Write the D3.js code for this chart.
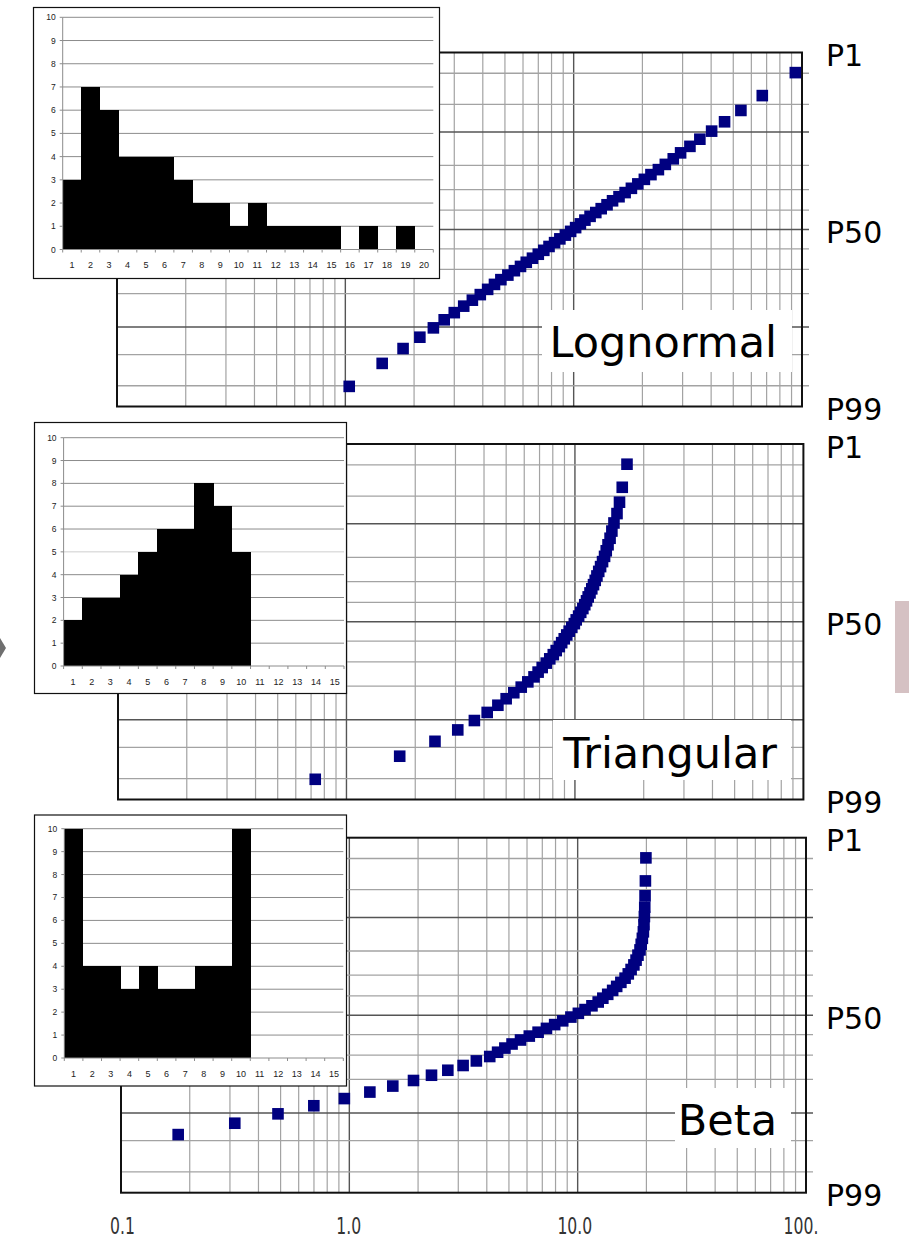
<!DOCTYPE html>
<html><head><meta charset="utf-8">
<script src="https://cdn.jsdelivr.net/npm/d3@7"></script>
<style>html,body{margin:0;padding:0;background:#fff;} svg{display:block;}</style>
</head><body><svg id="c" width="909" height="1240"></svg>
<script>
// ---------------- data ----------------
const distNames = ["Lognormal", "Triangular", "Beta"];

const lognormalValues = [1.04, 1.45, 1.79, 2.12, 2.43, 2.71, 3.0, 3.3, 3.6, 3.9,
  4.2, 4.5, 4.8, 5.15, 5.5, 5.85, 6.2, 6.6, 7.0, 7.4,
  7.8, 8.25, 8.7, 9.2, 9.7, 10.2, 10.7, 11.2, 11.8, 12.5,
  13.2, 14.0, 14.8, 15.8, 16.8, 17.9, 19.1, 20.4, 21.8, 23.5,
  25.2, 27.3, 29.4, 32.3, 35.7, 40.2, 45.8, 54.0, 67.0, 93.5];

const triangularValues = [0.73, 1.71, 2.44, 3.07, 3.63, 4.13, 4.60, 5.00, 5.40, 5.82,
  6.22, 6.62, 6.90, 7.19, 7.49, 7.76, 8.04, 8.28, 8.54, 8.75,
  8.98, 9.21, 9.44, 9.69, 9.94, 10.13, 10.38, 10.60, 10.83, 11.04,
  11.24, 11.43, 11.64, 11.85, 12.06, 12.27, 12.48, 12.71, 12.95, 13.21,
  13.48, 13.71, 13.96, 14.25, 14.51, 14.82, 15.28, 15.67, 16.11, 16.90];

const betaValues = [0.03, 0.075, 0.178, 0.315, 0.487, 0.699, 0.951, 1.23, 1.55, 1.91,
  2.29, 2.70, 3.15, 3.60, 4.12, 4.46, 4.80, 5.16, 5.62, 6.14,
  6.71, 7.30, 7.93, 8.60, 9.34, 10.07, 10.77, 11.55, 12.30, 12.89,
  13.54, 14.23, 14.82, 15.46, 16.13, 16.66, 17.14, 17.63, 18.02, 18.37,
  18.75, 18.98, 19.20, 19.40, 19.52, 19.60, 19.67, 19.73, 19.80, 19.90];

const lognormalCounts  = [3, 7, 6, 4, 4, 4, 3, 2, 2, 1, 2, 1, 1, 1, 1, 0, 1, 0, 1, 0];
const triangularCounts = [2, 3, 3, 4, 5, 6, 6, 8, 7, 5, 0, 0, 0, 0, 0];
const betaCounts       = [10, 4, 4, 3, 4, 3, 3, 4, 4, 10, 0, 0, 0, 0, 0];

const histYTicks = [0, 1, 2, 3, 4, 5, 6, 7, 8, 9, 10];

const xTickValues = [0.1, 1, 10, 100];
const xTickLabels = ["0.1", "1.0", "10.0", "100."];

const gridProbs  = [0.02, 0.05, 0.10, 0.20, 0.30, 0.40, 0.50, 0.60, 0.70, 0.80, 0.90, 0.95, 0.98];
const majorProbs = [0.10, 0.50, 0.90];
const edgeLabels = ["P1", "P50", "P99"];
const edgeProbs  = [0.99, 0.50, 0.01];

// ---------------- helpers ----------------
function probit(p) {
  const a = [-3.969683028665376e+01, 2.209460984245205e+02, -2.759285104469687e+02, 1.383577518672690e+02, -3.066479806614716e+01, 2.506628277459239e+00];
  const b = [-5.447609879822406e+01, 1.615858368580409e+02, -1.556989798598866e+02, 6.680131188771972e+01, -1.328068155288572e+01];
  const c = [-7.784894002430293e-03, -3.223964580411365e-01, -2.400758277161838e+00, -2.549732539343734e+00, 4.374664141464968e+00, 2.938163982698783e+00];
  const d = [7.784695709041462e-03, 3.224671290700398e-01, 2.445134137142996e+00, 3.754408661907416e+00];
  const pl = 0.02425, ph = 1 - pl;
  let q, r;
  if (p < pl) { q = Math.sqrt(-2 * Math.log(p)); return (((((c[0]*q+c[1])*q+c[2])*q+c[3])*q+c[4])*q+c[5]) / ((((d[0]*q+d[1])*q+d[2])*q+d[3])*q+1); }
  if (p <= ph) { q = p - 0.5; r = q*q; return (((((a[0]*r+a[1])*r+a[2])*r+a[3])*r+a[4])*r+a[5])*q / (((((b[0]*r+b[1])*r+b[2])*r+b[3])*r+b[4])*r+1); }
  q = Math.sqrt(-2 * Math.log(1 - p));
  return -(((((c[0]*q+c[1])*q+c[2])*q+c[3])*q+c[4])*q+c[5]) / ((((d[0]*q+d[1])*q+d[2])*q+d[3])*q+1);
}

const svg = d3.select("#c");
svg.append("rect").attr("width", 909).attr("height", 1240).attr("fill", "#fff");

const series = [lognormalValues, triangularValues, betaValues];
const counts = [lognormalCounts, triangularCounts, betaCounts];

const layouts = [
  { frame: {l: 117, r: 802, t: 52.5, b: 406.5}, tickExt: 7,
    label: {box: [542, 310, 250, 62], x: 777, y: 357},
    inset: {box: [33.5, 7.5, 406, 271], l: 62.7, r: 433.3, t: 17.3, b: 249.5} },
  { frame: {l: 118, r: 803.4, t: 444, b: 799.5}, tickExt: 0,
    label: {box: [553, 720, 238, 60], x: 777, y: 768},
    inset: {box: [34.5, 422.5, 312, 271], l: 63.6, r: 344, t: 437.7, b: 666} },
  { frame: {l: 121, r: 806, t: 837.7, b: 1192.7}, tickExt: 7,
    label: {box: [675, 1088, 116, 60], x: 777, y: 1135},
    inset: {box: [34.5, 815, 312, 271], l: 64.3, r: 343.3, t: 828.7, b: 1058} }
];

layouts.forEach((L, pi) => {
  const F = L.frame;
  const g = svg.append("g");
  const x = d3.scaleLog().domain([0.1, 100]).range([F.l, F.r]);
  const y = d3.scaleLinear().domain([probit(0.01), probit(0.99)]).range([F.b, F.t]);

  // vertical log grid
  const vMinor = [], vMajor = [];
  [0.1, 1, 10].forEach(dec => {
    for (let k = 1; k <= 9; k++) {
      const v = k * dec;
      if (v <= 0.1 + 1e-9) continue;
      (k === 1 ? vMajor : vMinor).push(v);
    }
  });
  g.selectAll(".vminor").data(vMinor).join("line")
    .attr("x1", d => x(d)).attr("x2", d => x(d)).attr("y1", F.t).attr("y2", F.b)
    .attr("stroke", "#a3a3a3").attr("stroke-width", 1.2);
  g.selectAll(".vmajor").data(vMajor).join("line")
    .attr("x1", d => x(d)).attr("x2", d => x(d)).attr("y1", F.t).attr("y2", F.b)
    .attr("stroke", "#555").attr("stroke-width", 1.4);

  // horizontal probability grid
  g.selectAll(".h").data(gridProbs).join("line")
    .attr("x1", F.l).attr("x2", F.r + L.tickExt)
    .attr("y1", d => y(probit(d))).attr("y2", d => y(probit(d)))
    .attr("stroke", d => majorProbs.includes(d) ? "#555" : "#a3a3a3")
    .attr("stroke-width", d => majorProbs.includes(d) ? 1.5 : 1.3);

  // frame
  g.append("rect").attr("x", F.l).attr("y", F.t).attr("width", F.r - F.l).attr("height", F.b - F.t)
    .attr("fill", "none").attr("stroke", "#111").attr("stroke-width", 2);

  // points (Weibull plotting positions i/(n+1))
  const vals = series[pi];
  const n = vals.length;
  const clipId = "clip" + pi;
  svg.append("clipPath").attr("id", clipId).append("rect")
    .attr("x", F.l).attr("y", F.t - 8).attr("width", F.r - F.l + 8).attr("height", F.b - F.t + 8);
  g.append("g").attr("clip-path", `url(#${clipId})`)
    .selectAll("rect").data(vals).join("rect")
    .attr("x", d => x(d) - 5.8)
    .attr("y", (d, i) => y(probit((i + 1) / (n + 1))) - 5.8)
    .attr("width", 11.6).attr("height", 11.6)
    .attr("fill", "#000080");

  // distribution name label with white background
  const LB = L.label;
  g.append("rect").attr("x", LB.box[0]).attr("y", LB.box[1]).attr("width", LB.box[2]).attr("height", LB.box[3])
    .attr("fill", "#fff");
  g.append("text").attr("x", LB.x).attr("y", LB.y).attr("text-anchor", "end")
    .attr("font-family", "'DejaVu Sans', Verdana, sans-serif").attr("font-size", 43)
    .attr("fill", "#000").text(distNames[pi]);

  // right edge labels
  g.selectAll(".pl").data(edgeLabels).join("text")
    .attr("x", 826).attr("y", (d, i) => y(probit(edgeProbs[i])) + 13.5)
    .attr("font-family", "'DejaVu Sans', Verdana, sans-serif").attr("font-size", 30)
    .attr("fill", "#000").text(d => d);

  // inset histogram
  const I = L.inset;
  const cts = counts[pi];
  const ig = svg.append("g");
  ig.append("rect").attr("x", I.box[0]).attr("y", I.box[1]).attr("width", I.box[2]).attr("height", I.box[3])
    .attr("fill", "#fff").attr("stroke", "#111").attr("stroke-width", 1.2);
  const hx = d3.scaleLinear().domain([0, cts.length]).range([I.l, I.r]);
  const hy = d3.scaleLinear().domain([0, 10]).range([I.b, I.t]);
  ig.selectAll(".hg").data(histYTicks.filter(v => v > 0)).join("line")
    .attr("x1", I.l).attr("x2", I.r).attr("y1", d => hy(d)).attr("y2", d => hy(d))
    .attr("stroke", d => (pi === 1 && d === 5) ? "#cfcfcf" : "#8c8c8c").attr("stroke-width", 1);
  ig.selectAll(".bar").data(cts).join("rect")
    .attr("x", (d, i) => hx(i)).attr("width", (d, i) => hx(i + 1) - hx(i) + 0.4)
    .attr("y", d => hy(d)).attr("height", d => hy(0) - hy(d))
    .attr("fill", "#000").attr("shape-rendering", "crispEdges");
  // axes
  ig.append("line").attr("x1", I.l).attr("x2", I.l).attr("y1", I.t).attr("y2", I.b).attr("stroke", "#8c8c8c");
  ig.append("line").attr("x1", I.l).attr("x2", I.r).attr("y1", I.b).attr("y2", I.b).attr("stroke", "#8c8c8c");
  ig.selectAll(".yt").data(histYTicks).join("line")
    .attr("x1", I.l - 3).attr("x2", I.l).attr("y1", d => hy(d)).attr("y2", d => hy(d)).attr("stroke", "#8c8c8c");
  ig.selectAll(".xt").data(d3.range(cts.length + 1)).join("line")
    .attr("x1", d => hx(d)).attr("x2", d => hx(d)).attr("y1", I.b).attr("y2", I.b + 3).attr("stroke", "#8c8c8c");
  ig.selectAll(".yl").data(histYTicks).join("text")
    .attr("x", I.l - 7).attr("y", d => hy(d) + 3).attr("text-anchor", "end")
    .attr("font-family", "'Liberation Sans', Arial, sans-serif").attr("font-size", 8.5).attr("fill", "#222")
    .text(d => d);
  ig.selectAll(".xl").data(d3.range(1, cts.length + 1)).join("text")
    .attr("x", d => hx(d - 0.5)).attr("y", I.b + 18.5).attr("text-anchor", "middle")
    .attr("font-family", "'Liberation Sans', Arial, sans-serif").attr("font-size", 9).attr("fill", "#222")
    .text(d => d);
});

// bottom x-axis labels (condensed, as in the source image)
const labelX = d3.scaleLog().domain([0.1, 100]).range([122.5, 801]);
svg.selectAll(".xlab").data(xTickValues).join("g")
  .attr("transform", d => `translate(${labelX(d)},1234) scale(0.68,1)`)
  .append("text").attr("text-anchor", "middle")
  .attr("font-family", "'DejaVu Sans', Verdana, sans-serif").attr("font-size", 23)
  .attr("fill", "#333").text((d, i) => xTickLabels[i]);

// slide decorations visible at the picture edges
svg.append("rect").attr("x", 895).attr("y", 601).attr("width", 14).attr("height", 92).attr("fill", "#d5c1c3");
svg.append("path").attr("d", "M0,638 L6,648 L0,658 Z").attr("fill", "#6f6f6f");
</script></body></html>
